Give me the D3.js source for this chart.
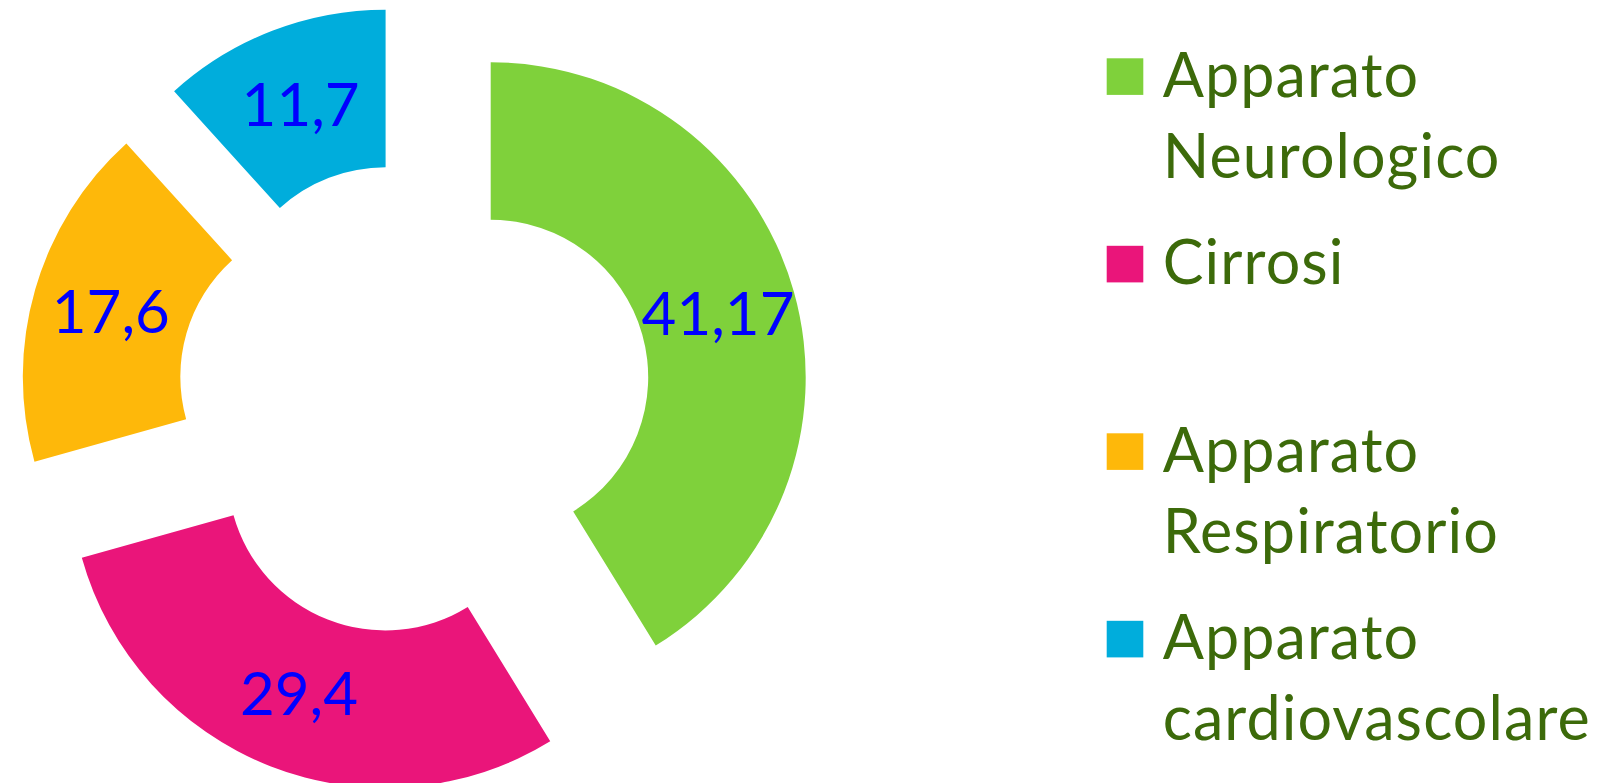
<!DOCTYPE html>
<html>
<head>
<meta charset="utf-8">
<script src="https://cdn.jsdelivr.net/npm/d3@7"></script>
<style>
  html, body { margin: 0; padding: 0; background: #fff; }
  svg { display: block; }
  text { font-family: Lato, "Open Sans", sans-serif; }
</style>
</head>
<body>
<svg id="chart" width="1610" height="783"></svg>
<script>
// Patologie: percentuali per apparato
const categories = ["Apparato Neurologico", "Cirrosi", "Apparato Respiratorio", "Apparato cardiovascolare"];
const legendLines = [["Apparato", "Neurologico"], ["Cirrosi"], ["Apparato", "Respiratorio"], ["Apparato", "cardiovascolare"]];
const values = [41.17, 29.4, 17.6, 11.7];
const colors = ["#7FD13B", "#EA157A", "#FEB80A", "#00ADDC"];

const W = 1610, H = 783;
const svg = d3.select("#chart");

// doughnut geometry
const cx = 414.2, cy = 398.9;
const outerR = 315, innerR = 157.5;
const explode = 79.5;

const itLocale = d3.formatLocale({ decimal: ",", thousands: ".", grouping: [3], currency: ["", " €"] });
const fmt = itLocale.format("~g");

const pie = d3.pie().sort(null).value(d => d.value);
const arc = d3.arc().innerRadius(innerR).outerRadius(outerR);

const data = values.map((v, i) => ({ value: v, name: categories[i], color: colors[i] }));
const arcs = pie(data);

const slices = svg.append("g").attr("class", "slices")
  .selectAll("g")
  .data(arcs)
  .join("g")
  .attr("transform", d => {
    const mid = (d.startAngle + d.endAngle) / 2;
    const x = cx + explode * Math.sin(mid);
    const y = cy - explode * Math.cos(mid);
    return `translate(${x},${y})`;
  });

slices.append("path")
  .attr("d", arc)
  .attr("fill", d => d.data.color);

slices.append("text")
  .attr("transform", d => `translate(${arc.centroid(d)})`)
  .attr("text-anchor", "middle")
  .attr("dy", "0.36em")
  .attr("font-size", 60)
  .attr("fill", "#0000FF")
  .text(d => fmt(d.data.value));

// legend
const legendX = 1106.7, legendTop = 96.7, slot = 187.5, lineH = 81, sw = 36.6;
const legend = svg.append("g").attr("class", "legend")
  .selectAll("g")
  .data(data)
  .join("g")
  .attr("transform", (d, i) => `translate(${legendX},${legendTop + i * slot})`);

legend.append("rect")
  .attr("x", 0)
  .attr("y", -38.4)
  .attr("width", sw)
  .attr("height", sw)
  .attr("fill", d => d.color);

legend.append("text")
  .attr("x", 56)
  .attr("font-size", 61)
  .attr("letter-spacing", 1.1)
  .attr("fill", "#3C6A0A")
  .selectAll("tspan")
  .data((d, i) => legendLines[i])
  .join("tspan")
  .attr("x", 56)
  .attr("y", (d, j) => j * lineH)
  .text(d => d);
</script>
</body>
</html>
